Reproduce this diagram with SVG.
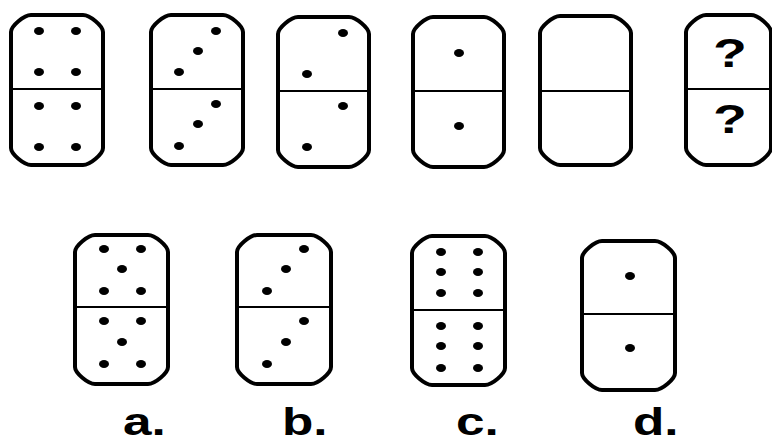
<svg xmlns="http://www.w3.org/2000/svg" width="772" height="443" viewBox="0 0 772 443">
<style>
.box{fill:#fff;stroke:#000;stroke-width:4;stroke-linejoin:round}
.div{stroke:#000;stroke-width:1.8}
.dot{fill:#000}
.lbl{font-family:"Liberation Sans",Arial,sans-serif;font-weight:bold;font-size:38px;fill:#000}
.q{font-family:"Liberation Sans",Arial,sans-serif;font-weight:bold;font-size:41px;fill:#000;text-anchor:middle}
</style>
<rect width="772" height="443" fill="#fff"/>
<g id="domino1">
<path class="box" d="M31,15 H83 C90,15 103,26 103,32 V148 C103,154 90,165 83,165 H31 C24,165 11,154 11,148 V32 C11,26 24,15 31,15 Z"/>
<line class="div" x1="11" y1="89" x2="103" y2="89"/>
<g class="dot"><ellipse cx="39" cy="31" rx="5" ry="4"/><ellipse cx="76" cy="31" rx="5" ry="4"/><ellipse cx="39" cy="72" rx="5" ry="4"/><ellipse cx="76" cy="72" rx="5" ry="4"/><ellipse cx="39" cy="106" rx="5" ry="4"/><ellipse cx="76" cy="106" rx="5" ry="4"/><ellipse cx="39" cy="147" rx="5" ry="4"/><ellipse cx="76" cy="147" rx="5" ry="4"/></g>
</g>
<g id="domino2">
<path class="box" d="M171,15 H223 C230,15 243,26 243,32 V148 C243,154 230,165 223,165 H171 C164,165 151,154 151,148 V32 C151,26 164,15 171,15 Z"/>
<line class="div" x1="151" y1="89" x2="243" y2="89"/>
<g class="dot"><ellipse cx="216" cy="31" rx="5" ry="4"/><ellipse cx="198" cy="51" rx="5" ry="4"/><ellipse cx="179" cy="72" rx="5" ry="4"/><ellipse cx="216" cy="104" rx="5" ry="4"/><ellipse cx="198" cy="124" rx="5" ry="4"/><ellipse cx="179" cy="146" rx="5" ry="4"/></g>
</g>
<g id="domino3">
<path class="box" d="M298,17 H349 C356,17 369,28 369,34 V150 C369,156 356,167 349,167 H298 C291,167 278,156 278,150 V34 C278,28 291,17 298,17 Z"/>
<line class="div" x1="278" y1="91" x2="369" y2="91"/>
<g class="dot"><ellipse cx="343" cy="33" rx="5" ry="4"/><ellipse cx="307" cy="74" rx="5" ry="4"/><ellipse cx="343" cy="106" rx="5" ry="4"/><ellipse cx="307" cy="147" rx="5" ry="4"/></g>
</g>
<g id="domino4">
<path class="box" d="M433,17 H484 C491,17 504,28 504,34 V150 C504,156 491,167 484,167 H433 C426,167 413,156 413,150 V34 C413,28 426,17 433,17 Z"/>
<line class="div" x1="413" y1="91" x2="504" y2="91"/>
<g class="dot"><ellipse cx="459" cy="53" rx="5" ry="4"/><ellipse cx="459" cy="126" rx="5" ry="4"/></g>
</g>
<g id="domino5">
<path class="box" d="M560,16 H611 C618,16 631,27 631,33 V148 C631,154 618,165 611,165 H560 C553,165 540,154 540,148 V33 C540,27 553,16 560,16 Z"/>
<line class="div" x1="540" y1="91" x2="631" y2="91"/>
</g>
<g id="domino6">
<path class="box" d="M706,15 H751 C758,15 771,26 771,32 V148 C771,154 758,165 751,165 H706 C699,165 686,154 686,148 V32 C686,26 699,15 706,15 Z"/>
<line class="div" x1="686" y1="89" x2="771" y2="89"/>
<text class="q" transform="translate(730,67) scale(1.35,1)">?</text>
<text class="q" transform="translate(730,133) scale(1.35,1)">?</text>
</g>
<g id="option-a">
<path class="box" d="M95,235 H148 C155,235 168,246 168,252 V367 C168,373 155,384 148,384 H95 C88,384 75,373 75,367 V252 C75,246 88,235 95,235 Z"/>
<line class="div" x1="75" y1="307" x2="168" y2="307"/>
<g class="dot"><ellipse cx="104" cy="249" rx="5" ry="4"/><ellipse cx="141" cy="249" rx="5" ry="4"/><ellipse cx="122" cy="269" rx="5" ry="4"/><ellipse cx="104" cy="291" rx="5" ry="4"/><ellipse cx="141" cy="291" rx="5" ry="4"/><ellipse cx="104" cy="321" rx="5" ry="4"/><ellipse cx="141" cy="321" rx="5" ry="4"/><ellipse cx="122" cy="342" rx="5" ry="4"/><ellipse cx="104" cy="364" rx="5" ry="4"/><ellipse cx="141" cy="364" rx="5" ry="4"/></g>
<text class="lbl" transform="translate(123,435) scale(1.35,1)">a.</text>
</g>
<g id="option-b">
<path class="box" d="M257,235 H311 C318,235 331,246 331,252 V367 C331,373 318,384 311,384 H257 C250,384 237,373 237,367 V252 C237,246 250,235 257,235 Z"/>
<line class="div" x1="237" y1="307" x2="331" y2="307"/>
<g class="dot"><ellipse cx="304" cy="249" rx="5" ry="4"/><ellipse cx="286" cy="269" rx="5" ry="4"/><ellipse cx="267" cy="291" rx="5" ry="4"/><ellipse cx="304" cy="321" rx="5" ry="4"/><ellipse cx="286" cy="342" rx="5" ry="4"/><ellipse cx="267" cy="364" rx="5" ry="4"/></g>
<text class="lbl" transform="translate(282,435) scale(1.35,1)">b.</text>
</g>
<g id="option-c">
<path class="box" d="M432,236 H485 C492,236 505,247 505,253 V368 C505,374 492,385 485,385 H432 C425,385 412,374 412,368 V253 C412,247 425,236 432,236 Z"/>
<line class="div" x1="412" y1="310" x2="505" y2="310"/>
<g class="dot"><ellipse cx="441" cy="252" rx="5" ry="4"/><ellipse cx="478" cy="252" rx="5" ry="4"/><ellipse cx="441" cy="272" rx="5" ry="4"/><ellipse cx="478" cy="272" rx="5" ry="4"/><ellipse cx="441" cy="293" rx="5" ry="4"/><ellipse cx="478" cy="293" rx="5" ry="4"/><ellipse cx="441" cy="326" rx="5" ry="4"/><ellipse cx="478" cy="326" rx="5" ry="4"/><ellipse cx="441" cy="346" rx="5" ry="4"/><ellipse cx="478" cy="346" rx="5" ry="4"/><ellipse cx="441" cy="368" rx="5" ry="4"/><ellipse cx="478" cy="368" rx="5" ry="4"/></g>
<text class="lbl" transform="translate(456,435) scale(1.35,1)">c.</text>
</g>
<g id="option-d">
<path class="box" d="M602,241 H655 C662,241 675,252 675,258 V373 C675,379 662,390 655,390 H602 C595,390 582,379 582,373 V258 C582,252 595,241 602,241 Z"/>
<line class="div" x1="582" y1="314" x2="675" y2="314"/>
<g class="dot"><ellipse cx="630" cy="276" rx="5" ry="4"/><ellipse cx="630" cy="348" rx="5" ry="4"/></g>
<text class="lbl" transform="translate(633,435) scale(1.35,1)">d.</text>
</g>
</svg>
